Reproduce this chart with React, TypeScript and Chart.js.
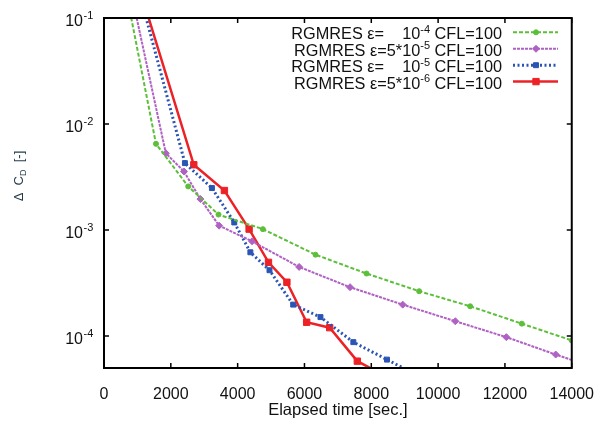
import React, { useEffect, useRef } from "react";
import { Chart, registerables } from "chart.js";
import { drawPoint } from "chart.js/helpers";
Chart.register(...registerables);

// ---- data ----
const xTickValues = [0, 2000, 4000, 6000, 8000, 10000, 12000, 14000];
const yTickValues = [1e-4, 1e-3, 1e-2, 1e-1];
const yTickExponents = ["-4", "-3", "-2", "-1"];

const timeEps1e4 = [500, 1556, 2520, 3427, 4756, 6331, 7858, 9433, 10960, 12505, 14000];
const dcdEps1e4 = [0.32, 6.5e-3, 2.58e-3, 1.4e-3, 1.02e-3, 5.86e-4, 3.89e-4, 2.65e-4, 1.91e-4, 1.31e-4, 9.1e-5];

const timeEps5e5 = [500, 1851, 2393, 2886, 3446, 4431, 5840, 7365, 8941, 10516, 12043, 13520, 15050];
const dcdEps5e5 = [0.5, 5.3e-3, 3.57e-3, 1.96e-3, 1.1e-3, 7.83e-4, 4.49e-4, 2.89e-4, 1.98e-4, 1.38e-4, 9.77e-5, 6.7e-5, 4.6e-5];

const timeEps1e5 = [800, 2422, 3230, 3899, 4381, 4953, 5662, 6479, 7463, 8469, 9450];
const dcdEps1e5 = [0.35, 4.28e-3, 2.49e-3, 1.18e-3, 6.17e-4, 4.18e-4, 1.98e-4, 1.51e-4, 8.77e-5, 6.0e-5, 4.15e-5];

const timeEps5e6 = [900, 2688, 3604, 4343, 4923, 5474, 6065, 6755, 7582, 8300];
const dcdEps5e6 = [0.28, 4.13e-3, 2.36e-3, 1.02e-3, 4.96e-4, 3.22e-4, 1.35e-4, 1.2e-4, 5.8e-5, 4.4e-5];

const legendMantissa = ["    10", "5*10", "    10", "5*10"];
const legendExponent = ["-4", "-5", "-5", "-6"];
const legendPrefix = "RGMRES \u03b5=";
const legendSuffix = " CFL=100";

const FONT = "'Liberation Sans', Arial, Helvetica, sans-serif";

const seriesStyles = [
  { color: "#5cbf3a", width: 2, dash: [4, 2], pointStyle: "circle", radius: 2.5 },
  { color: "#b062c4", width: 2, dash: [3, 1], pointStyle: "rectRot", radius: 3.5 },
  { color: "#2a55b4", width: 3, dash: [2, 2.5], pointStyle: "rect", radius: 3.5 },
  { color: "#ec2226", width: 2.5, dash: [], pointStyle: "rect", radius: 4.5 },
];

function pairs(xs: number[], ys: number[]) {
  return xs.map((x, i) => ({ x, y: ys[i] }));
}

const decorPlugin = {
  id: "decor",
  afterDatasetsDraw(chart: any) {
    const { ctx, chartArea: a, scales } = chart;
    const xs = scales.x;
    const ys = scales.y;
    ctx.save();
    // frame
    ctx.strokeStyle = "#000";
    ctx.lineWidth = 2;
    ctx.setLineDash([]);
    ctx.strokeRect(a.left, a.top, a.right - a.left, a.bottom - a.top);
    // ticks
    ctx.lineWidth = 1.5;
    const tl = 5;
    ctx.beginPath();
    xTickValues.forEach((v) => {
      const px = xs.getPixelForValue(v);
      ctx.moveTo(px, a.bottom);
      ctx.lineTo(px, a.bottom - tl);
      ctx.moveTo(px, a.top);
      ctx.lineTo(px, a.top + tl);
    });
    yTickValues.forEach((v) => {
      const py = ys.getPixelForValue(v);
      ctx.moveTo(a.left, py);
      ctx.lineTo(a.left + tl, py);
      ctx.moveTo(a.right, py);
      ctx.lineTo(a.right - tl, py);
    });
    ctx.stroke();
    // y tick labels 10^n
    ctx.fillStyle = "#111";
    yTickValues.forEach((v, i) => {
      const py = ys.getPixelForValue(v);
      ctx.font = `16px ${FONT}`;
      ctx.textAlign = "right";
      ctx.textBaseline = "alphabetic";
      ctx.fillText("10", 83, py + 7.5);
      ctx.font = `11px ${FONT}`;
      ctx.textAlign = "left";
      ctx.fillText(yTickExponents[i], 83.5, py + 0.5);
    });
    // y axis title: Δ C_D [-]
    ctx.save();
    ctx.translate(23, 176);
    ctx.rotate(-Math.PI / 2);
    ctx.fillStyle = "#1e3646";
    ctx.textBaseline = "alphabetic";
    ctx.textAlign = "left";
    const p1 = "\u0394  C";
    const p3 = "  [-]";
    ctx.font = `13px ${FONT}`;
    const w1 = ctx.measureText(p1).width;
    ctx.font = `9px ${FONT}`;
    const w2 = ctx.measureText("D").width;
    ctx.font = `13px ${FONT}`;
    const w3 = ctx.measureText(p3).width;
    let sx = -(w1 + w2 + w3) / 2;
    ctx.fillText(p1, sx, 0);
    sx += w1;
    ctx.font = `9px ${FONT}`;
    ctx.fillText("D", sx, 3);
    sx += w2;
    ctx.font = `13px ${FONT}`;
    ctx.fillText(p3, sx, 0);
    ctx.restore();

    // legend
    const rightX = 502;
    const rowBase = [39.3, 55.8, 72.2, 88.6];
    for (let i = 0; i < 4; i++) {
      const base = rowBase[i];
      ctx.fillStyle = "#111";
      ctx.textAlign = "left";
      ctx.font = `16.3px ${FONT}`;
      const wSuf = ctx.measureText(legendSuffix).width;
      ctx.font = `11px ${FONT}`;
      const wExp = ctx.measureText(legendExponent[i]).width;
      ctx.font = `16.3px ${FONT}`;
      const wMan = ctx.measureText(legendMantissa[i]).width;
      const wPre = ctx.measureText(legendPrefix).width;
      let x = rightX - wSuf - wExp - wMan - wPre;
      ctx.fillText(legendPrefix, x, base);
      x += wPre;
      ctx.fillText(legendMantissa[i], x, base);
      x += wMan;
      ctx.font = `11px ${FONT}`;
      ctx.fillText(legendExponent[i], x, base - 6.5);
      x += wExp;
      ctx.font = `16.3px ${FONT}`;
      ctx.fillText(legendSuffix, x, base);
      // sample line
      const st = seriesStyles[i];
      const ly = base - 7;
      ctx.strokeStyle = st.color;
      ctx.lineWidth = st.width;
      ctx.setLineDash(st.dash);
      ctx.beginPath();
      ctx.moveTo(513, ly);
      ctx.lineTo(558, ly);
      ctx.stroke();
      ctx.setLineDash([]);
      ctx.fillStyle = st.color;
      ctx.strokeStyle = st.color;
      ctx.lineWidth = 1;
      drawPoint(ctx, { pointStyle: st.pointStyle as any, radius: st.radius, rotation: 0, borderWidth: 1 }, 536, ly);
    }
    ctx.restore();
  },
};

export default function App() {
  const ref = useRef<HTMLCanvasElement | null>(null);
  useEffect(() => {
    if (!ref.current) return;
    const seriesX = [timeEps1e4, timeEps5e5, timeEps1e5, timeEps5e6];
    const seriesY = [dcdEps1e4, dcdEps5e5, dcdEps1e5, dcdEps5e6];
    const datasets = seriesX.map((xs, i) => {
      const st = seriesStyles[i];
      return {
        label: legendPrefix + legendMantissa[i].trim() + "^" + legendExponent[i] + legendSuffix,
        data: pairs(xs, seriesY[i]),
        borderColor: st.color,
        backgroundColor: st.color,
        borderWidth: st.width,
        borderDash: st.dash,
        pointStyle: st.pointStyle,
        pointRadius: st.radius,
        pointBorderWidth: 1,
        pointBackgroundColor: st.color,
        pointBorderColor: st.color,
        tension: 0,
        showLine: true,
        fill: false,
      };
    });
    const chart = new Chart(ref.current, {
      type: "scatter",
      data: { datasets: datasets as any },
      options: {
        animation: false,
        responsive: false,
        devicePixelRatio: 1,
        layout: { padding: { top: 18, right: 25, left: 0, bottom: 0 } },
        plugins: { legend: { display: false }, tooltip: { enabled: false } },
        events: [],
        scales: {
          x: {
            type: "linear",
            min: 0,
            max: 14000,
            afterBuildTicks: (s: any) => {
              s.ticks = xTickValues.map((v) => ({ value: v }));
            },
            afterFit: (s: any) => {
              s.height = 53;
            },
            grid: { display: false },
            border: { display: false },
            ticks: {
              color: "#111",
              font: { family: FONT, size: 16 },
              padding: 9,
              maxRotation: 0,
              autoSkip: false,
              callback: (v: any) => String(v),
            },
            title: {
              display: true,
              text: "Elapsed time [sec.]",
              color: "#111",
              font: { family: FONT, size: 16.5 },
              padding: { top: 0, bottom: 1 },
            },
          },
          y: {
            type: "logarithmic",
            min: 5e-5,
            max: 0.1,
            afterBuildTicks: (s: any) => {
              s.ticks = yTickValues.map((v) => ({ value: v }));
            },
            afterFit: (s: any) => {
              s.width = 104;
            },
            grid: { display: false },
            border: { display: false },
            ticks: { display: false },
          },
        },
      },
      plugins: [decorPlugin],
    });
    return () => chart.destroy();
  }, []);
  return (
    <div style={{ position: "fixed", left: 0, top: 0, width: 603, height: 421, background: "#fff" }}>
      <canvas ref={ref} width={603} height={421} style={{ width: 603, height: 421, display: "block" }} />
    </div>
  );
}
